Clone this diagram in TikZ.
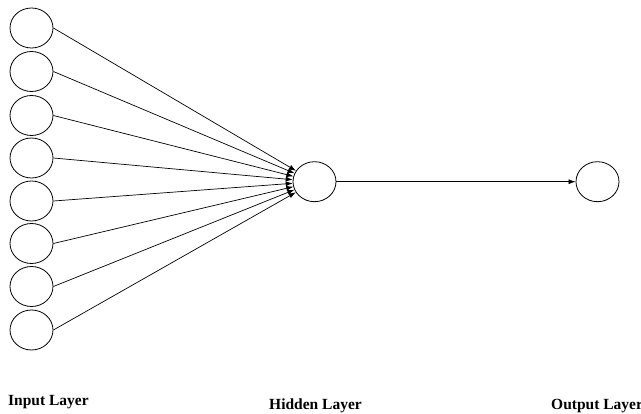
\documentclass[tikz,border=0pt]{standalone}
\usepackage{fontspec}
\setmainfont{Liberation Serif}
\usetikzlibrary{arrows.meta,shapes.geometric}
\begin{document}
\begin{tikzpicture}[x=1pt,y=-1pt,
  neuron/.style={draw,ellipse,minimum width=43pt,minimum height=40pt,inner sep=0pt,line width=0.8pt},
  conn/.style={line width=0.7pt,-{Latex[length=7pt,width=5pt]}},
  lab/.style={font=\fontsize{15.5}{18}\selectfont\bfseries,inner sep=0pt}]
\useasboundingbox (0,0) rectangle (641,414);
\foreach \i/\y in {1/28,2/71.5,3/115.5,4/158,5/201,6/243.5,7/286.5,8/330}{
  \node[neuron] (in\i) at (31.5,\y) {};
}
\node[neuron] (hid) at (314.5,181.7) {};
\node[neuron] (out) at (597.5,181.7) {};
\foreach \i in {1,...,8}{
  \draw[conn] (in\i.east) -- (hid);
}
\draw[conn] (hid.east) -- (out.west);
\node[lab,anchor=base west] (l1) at (8,406) {Input Layer};
\node[lab,anchor=base] (l2) at (315.5,410) {Hidden Layer};
\node[lab,anchor=base west] (l3) at (551,410) {Output Layer};
\end{tikzpicture}
\end{document}
